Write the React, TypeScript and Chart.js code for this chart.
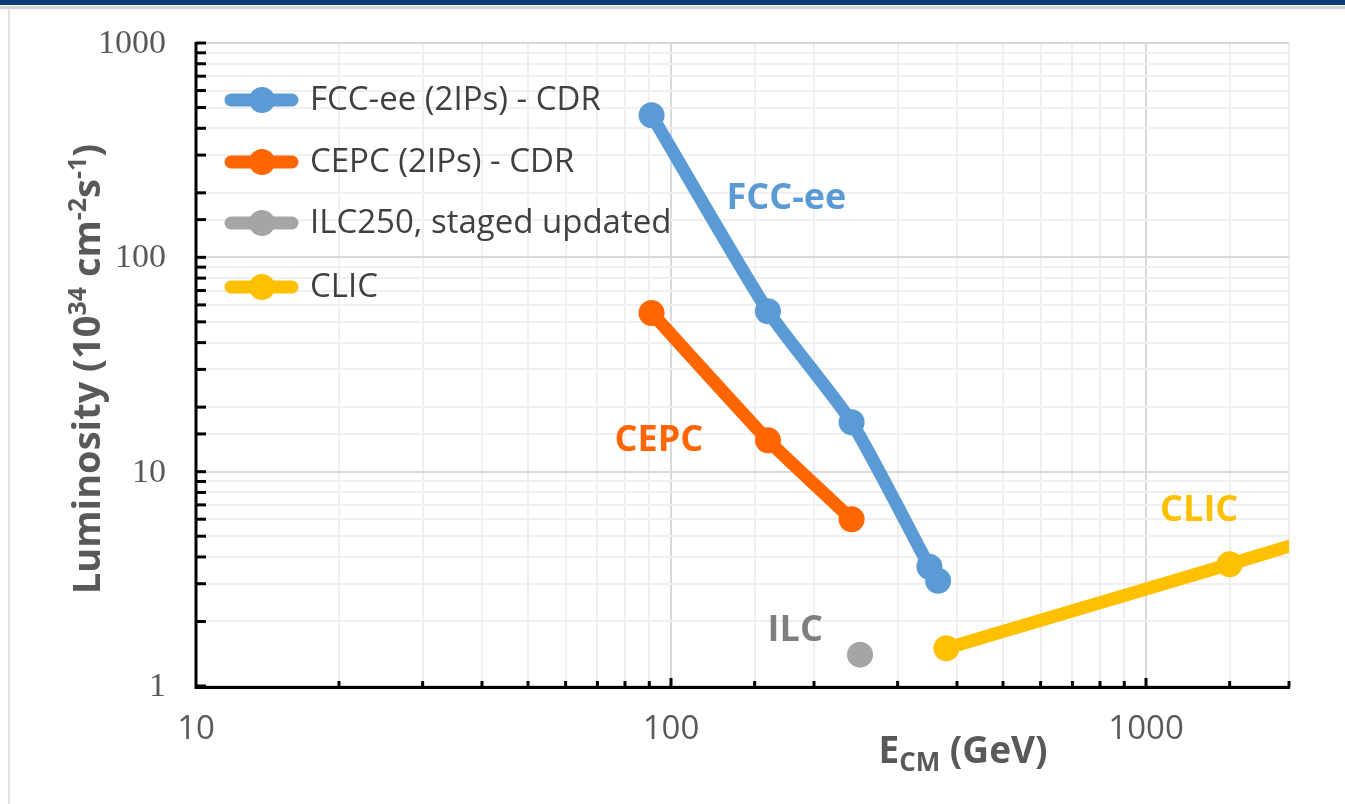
import React, { useEffect, useRef } from "react";
import { Chart, registerables } from "chart.js";
Chart.register(...registerables);

const seriesNames = ["FCC-ee (2IPs) - CDR", "CEPC (2IPs) - CDR", "ILC250, staged updated", "CLIC"];
const seriesColors = ["#5b9bd5", "#ff6600", "#a5a5a5", "#ffc000"];

const fccEnergy = [91, 160, 240, 350, 365];
const fccLumi = [460, 56, 17, 3.6, 3.1];
const cepcEnergy = [91, 160, 240];
const cepcLumi = [55, 14, 6];
const ilcEnergy = [250];
const ilcLumi = [1.4];
const clicEnergy = [380, 1500, 3000];
const clicLumi = [1.5, 3.7, 5.9];

const xTickLabels = [10, 100, 1000];
const yTickLabels = [1, 10, 100, 1000];

const annotationTexts = ["FCC-ee", "CEPC", "ILC", "CLIC"];
const annotationColors = ["#5b9bd5", "#ff6600", "#7f7f7f", "#ffc000"];
const annotationX = [175, 94.3, 182.6, 1294];
const annotationY = [187, 14.0, 1.82, 6.55];

const isMajor = (v: number) => {
  const l = Math.log10(v);
  return Math.abs(l - Math.round(l)) < 1e-9;
};

const SANS = "'Open Sans', 'Noto Sans', sans-serif";

function drawRuns(ctx: CanvasRenderingContext2D, runs: { t: string; size: number; dy: number }[], x: number, y: number, align: "left" | "center") {
  let total = 0;
  for (const r of runs) {
    ctx.font = `bold ${r.size}px ${SANS}`;
    total += ctx.measureText(r.t).width;
  }
  let cx = align === "center" ? x - total / 2 : x;
  ctx.textAlign = "left";
  ctx.textBaseline = "alphabetic";
  for (const r of runs) {
    ctx.font = `bold ${r.size}px ${SANS}`;
    ctx.fillText(r.t, cx, y + r.dy);
    cx += ctx.measureText(r.t).width;
  }
}

const decorPlugin = {
  id: "decor",
  beforeDraw(chart: any) {
    const ctx = chart.ctx as CanvasRenderingContext2D;
    ctx.save();
    ctx.fillStyle = "#ffffff";
    ctx.fillRect(0, 0, chart.width, chart.height);
    ctx.fillStyle = "#0d3b7e";
    ctx.fillRect(0, 0, chart.width, 5);
    ctx.fillStyle = "#d4d4d4";
    ctx.fillRect(0, 6, chart.width, 3);
    ctx.fillStyle = "#e3e3e3";
    ctx.fillRect(8, 9, 2, chart.height - 9);
    ctx.restore();
  },
  afterDraw(chart: any) {
    const ctx = chart.ctx as CanvasRenderingContext2D;
    const xs = chart.scales.x;
    const ys = chart.scales.y;
    const a = chart.chartArea;
    ctx.save();
    // axes
    ctx.strokeStyle = "#000000";
    ctx.lineWidth = 3;
    ctx.lineCap = "butt";
    ctx.beginPath();
    ctx.moveTo(a.left, a.top - 1);
    ctx.lineTo(a.left, a.bottom + 1.5);
    ctx.lineTo(a.right + 1, a.bottom + 1.5);
    ctx.stroke();
    // y ticks (inward)
    for (const t of ys.ticks) {
      const py = ys.getPixelForValue(t.value);
      ctx.beginPath();
      ctx.moveTo(a.left, py);
      ctx.lineTo(a.left + 10, py);
      ctx.stroke();
    }
    // x ticks (inward)
    for (const t of xs.ticks) {
      const px = xs.getPixelForValue(t.value);
      if (Math.abs(px - a.left) < 1) continue;
      const len = isMajor(t.value) ? 8 : 5;
      ctx.beginPath();
      ctx.moveTo(px, a.bottom + 1);
      ctx.lineTo(px, a.bottom - len);
      ctx.stroke();
    }
    // y tick labels
    ctx.fillStyle = "#595959";
    ctx.font = "34px 'Liberation Serif', 'DejaVu Serif', serif";
    ctx.textAlign = "right";
    ctx.textBaseline = "middle";
    for (const v of yTickLabels) {
      ctx.fillText(String(v), 166, ys.getPixelForValue(v) + 1);
    }
    // x tick labels
    ctx.font = `33px ${SANS}`;
    ctx.textAlign = "center";
    ctx.textBaseline = "middle";
    for (const v of xTickLabels) {
      ctx.fillText(String(v), xs.getPixelForValue(v), 730);
    }
    // x title
    ctx.fillStyle = "#595959";
    drawRuns(ctx, [
      { t: "E", size: 37, dy: 0 },
      { t: "CM", size: 26, dy: 8 },
      { t: " (GeV)", size: 37, dy: 0 },
    ], 963, 763, "center");
    // y title
    ctx.save();
    ctx.translate(100, 369);
    ctx.rotate(-Math.PI / 2);
    drawRuns(ctx, [
      { t: "Luminosity (10", size: 38, dy: 0 },
      { t: "34", size: 25, dy: -14 },
      { t: " cm", size: 38, dy: 0 },
      { t: "-2", size: 25, dy: -14 },
      { t: "s", size: 38, dy: 0 },
      { t: "-1", size: 25, dy: -14 },
      { t: ")", size: 38, dy: 0 },
    ], 0, 0, "center");
    ctx.restore();
    // annotations
    ctx.textAlign = "center";
    ctx.textBaseline = "middle";
    ctx.font = `bold 36px ${SANS}`;
    annotationTexts.forEach((t, i) => {
      ctx.fillStyle = annotationColors[i];
      ctx.fillText(t, xs.getPixelForValue(annotationX[i]), ys.getPixelForValue(annotationY[i]));
    });
    // legend
    const rowY = [100, 162, 223, 287];
    seriesNames.forEach((name, i) => {
      const y = rowY[i];
      ctx.strokeStyle = seriesColors[i];
      ctx.lineWidth = 13;
      ctx.lineCap = "round";
      ctx.beginPath();
      ctx.moveTo(231, y);
      ctx.lineTo(292, y);
      ctx.stroke();
      ctx.fillStyle = seriesColors[i];
      ctx.beginPath();
      ctx.arc(262, y, 13, 0, Math.PI * 2);
      ctx.fill();
      ctx.fillStyle = "#404040";
      ctx.font = `33px ${SANS}`;
      ctx.textAlign = "left";
      ctx.textBaseline = "middle";
      ctx.fillText(name, 310, y + 1);
    });
    ctx.restore();
  },
};

const toPoints = (xs: number[], ys: number[]) => xs.map((x, i) => ({ x, y: ys[i] }));

export default function App() {
  const ref = useRef<HTMLCanvasElement | null>(null);
  useEffect(() => {
    document.body.style.margin = "0";
    const canvas = ref.current!;
    const lineDs = (i: number, data: any[], tension: number) => ({
      label: seriesNames[i],
      data,
      borderColor: seriesColors[i],
      backgroundColor: seriesColors[i],
      borderWidth: 13,
      pointRadius: 13,
      pointHoverRadius: 13,
      pointBorderWidth: 0,
      tension,
      clip: 0,
      borderCapStyle: "round" as const,
      borderJoinStyle: "round" as const,
    });
    const chart = new Chart(canvas, {
      type: "line",
      data: {
        datasets: [
          lineDs(0, toPoints(fccEnergy, fccLumi), 0.2),
          lineDs(1, toPoints(cepcEnergy, cepcLumi), 0.15),
          { ...lineDs(2, toPoints(ilcEnergy, ilcLumi), 0), showLine: false },
          lineDs(3, toPoints(clicEnergy, clicLumi), 0),
        ],
      },
      options: {
        animation: false,
        responsive: false,
        devicePixelRatio: 1,
        layout: { padding: { left: 196, top: 43, right: 56, bottom: 118 } },
        plugins: { legend: { display: false }, tooltip: { enabled: false } },
        scales: {
          x: {
            type: "logarithmic",
            min: 10,
            max: 2000,
            border: { display: false },
            ticks: { display: false },
            grid: {
              drawTicks: false,
              lineWidth: 2,
              color: (c: any) => (isMajor(c.tick.value) ? "#d9d9d9" : "#f0f0f0"),
            },
          },
          y: {
            type: "logarithmic",
            min: 1,
            max: 1000,
            border: { display: false },
            ticks: { display: false },
            grid: {
              drawTicks: false,
              lineWidth: 2,
              color: (c: any) => (isMajor(c.tick.value) ? "#d9d9d9" : "#f0f0f0"),
            },
          },
        },
      },
      plugins: [decorPlugin],
    });
    return () => chart.destroy();
  }, []);
  return (
    <canvas
      ref={ref}
      width={1345}
      height={804}
      style={{ display: "block", position: "fixed", left: 0, top: 0, width: 1345, height: 804 }}
    />
  );
}
